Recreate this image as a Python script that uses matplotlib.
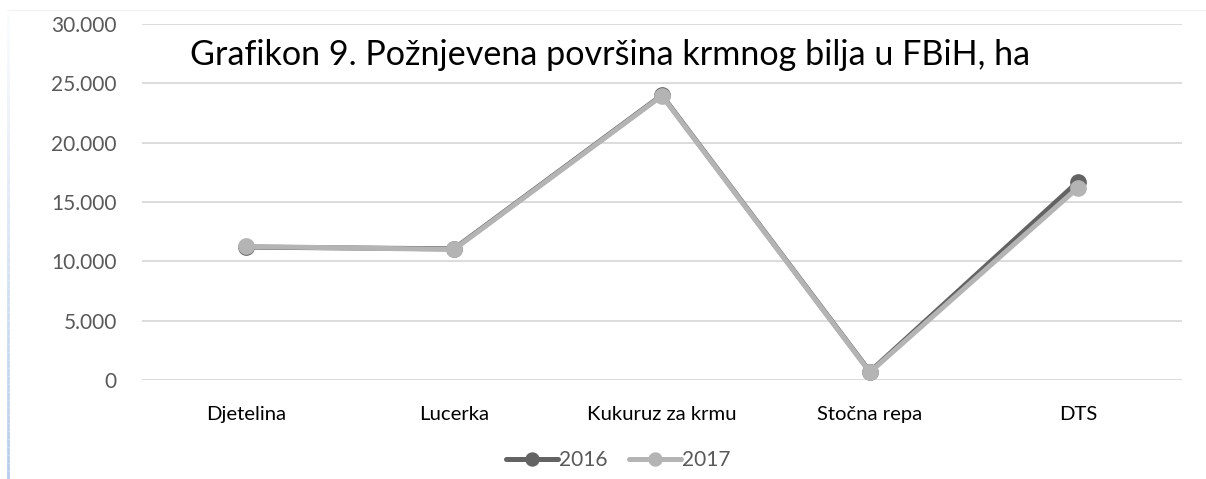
import numpy as np
import matplotlib
matplotlib.use("Agg")
import matplotlib.pyplot as plt
from matplotlib.collections import LineCollection
from matplotlib.ticker import FuncFormatter

categories = ["Djetelina", "Lucerka", "Kukuruz za krmu", "Stočna repa", "DTS"]
area_2016 = [11200, 11050, 24000, 700, 16700]
area_2017 = [11250, 11000, 23950, 650, 16200]
yticks = [0, 5000, 10000, 15000, 20000, 25000, 30000]

plt.rcParams["font.family"] = ["Lato", "DejaVu Sans"]

fig = plt.figure(figsize=(12.06, 4.79), dpi=100)
ax = fig.add_axes([0.1177, 0.2067, 0.8623, 0.7433])

x = np.arange(len(categories)) + 0.5
ax.plot(x, area_2016, color="#636363", lw=3.6, marker="o", ms=11,
        label="2016", zorder=3, solid_capstyle="round")
ax.plot(x, area_2017, color="#b4b4b4", lw=3.6, marker="o", ms=11,
        label="2017", zorder=4, solid_capstyle="round")

ax.set_xlim(0, len(categories))
ax.set_ylim(0, 30000)
ax.set_yticks(yticks)
ax.yaxis.set_major_formatter(FuncFormatter(lambda v, p: f"{int(v):,}".replace(",", ".")))
ax.set_xticks(x)
ax.set_xticklabels(categories)
ax.tick_params(axis="x", length=0, pad=19, labelsize=14.6, labelcolor="#000000")
ax.tick_params(axis="y", length=0, pad=18, labelsize=15, labelcolor="#595959")
ax.grid(True, axis="y", color="#d9d9d9", lw=1.3)
ax.set_axisbelow(True)
for s in ax.spines.values():
    s.set_visible(False)

ax.text(0.23, 27350, "Grafikon 9. Požnjevena površina krmnog bilja u FBiH, ha",
        fontsize=24.6, color="#000000", va="center", ha="left")

leg = ax.legend(loc="center", bbox_to_anchor=(0.458, -0.225), ncol=2,
                frameon=False, fontsize=15, handlelength=2.5, markerscale=0.85,
                handletextpad=0.05, columnspacing=1.0)
for t in leg.get_texts():
    t.set_color("#595959")

# faint chart border: top line and gradient left edge
fig.add_artist(plt.Line2D([0.006, 1.0], [0.979, 0.979], color="#f2f2f2", lw=1,
                          transform=fig.transFigure))
ys = np.linspace(0.979, 0.0, 60)
segs = [[(0.0065, ys[i]), (0.0065, ys[i + 1])] for i in range(len(ys) - 1)]
cols = [(1 - 0.28 * t, 1 - 0.2 * t, 1 - 0.08 * t) for t in np.linspace(0.05, 1, len(segs))]
fig.add_artist(LineCollection(segs, colors=cols, lw=2, transform=fig.transFigure))

fig.savefig("out.png", dpi=100)
